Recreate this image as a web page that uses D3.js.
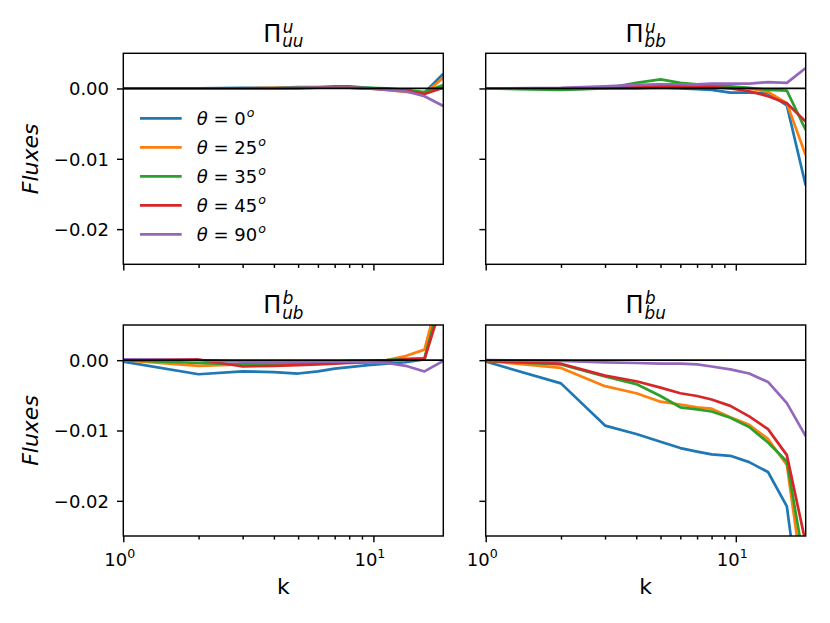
<!DOCTYPE html>
<html>
<head>
<meta charset="utf-8">
<script src="https://cdn.jsdelivr.net/npm/d3@7"></script>
<style>
  html, body { margin: 0; padding: 0; background: #fff; }
  svg { display: block; font-family: 'DejaVu Sans', sans-serif; }
</style>
</head>
<body>
<svg id="chart" width="830" height="623"></svg>
<script>
// shell wavenumbers (linear up to 8, then 2^(1/4) spacing)
var kValues = [1, 2, 3, 4, 5, 6, 7, 8, 9.51, 11.31, 13.45, 16, 19.03]
var thetaValues = [0, 25, 35, 45, 90]
var seriesColors = ['#1f77b4', '#ff7f0e', '#2ca02c', '#d62728', '#9467bd']
var yTickValues = [0, -0.01, -0.02]
var xMajorTicks = [1, 10]
var xMinorTicks = [2, 3, 4, 5, 6, 7, 8, 9]

// Pi^u_uu, one row per theta
var piUUu = [
  [0, 0, 0.0001, 0.0001, 0.0002, 0.0002, 0.0003, 0.0003, 0.0001, -0.0001, -0.0003, -0.0006, 0.0021],
  [0, 0, 0, 0.0001, 0.0001, 0.0001, 0.0001, 0.0001, 0, -0.0002, -0.0005, -0.0007, 0.0015],
  [0, 0, 0, 0, 0.0001, 0.0001, 0.0001, 0.0001, 0.0001, 0, -0.0002, -0.0005, 0.0005],
  [0, 0, 0, 0, 0, 0.0001, 0.0001, 0.0001, 0, -0.0001, -0.0003, -0.0008, 0.0001],
  [0, 0, 0, 0, 0.0001, 0.0001, 0.0001, 0.0001, 0, -0.0002, -0.0004, -0.0011, -0.0025]
]
// Pi^u_bb
var piBBu = [
  [0, -0.0001, 0, 0, 0.0001, 0, -0.0001, -0.0002, -0.0006, -0.0006, -0.0007, -0.0024, -0.0138],
  [0, 0, 0.0001, 0.0003, 0.0006, 0.0005, 0.0004, 0.0003, 0.0002, 0, -0.0005, -0.0021, -0.0095],
  [0, -0.0002, 0, 0.0008, 0.0013, 0.0008, 0.0006, 0.0004, 0.0003, 0.0001, -0.0002, -0.0003, -0.0059],
  [0, 0, 0.0001, 0.0002, 0.0003, 0.0003, 0.0002, 0.0002, 0, -0.0004, -0.0011, -0.0021, -0.0047],
  [0, 0.0001, 0.0003, 0.0005, 0.0006, 0.0006, 0.0006, 0.0007, 0.0007, 0.0007, 0.0009, 0.0008, 0.0029]
]
// Pi^b_ub
var piUBb = [
  [-0.0002, -0.002, -0.0016, -0.0017, -0.0019, -0.0016, -0.0012, -0.001, -0.0007, -0.0005, -0.0003, 0.0001, 0.0107],
  [0, -0.0008, -0.0006, -0.0005, -0.0004, -0.0003, -0.0002, -0.0002, -0.0001, 0, 0.0006, 0.0015, 0.0117],
  [0, -0.0004, -0.0006, -0.0005, -0.0004, -0.0003, -0.0002, -0.0001, -0.0001, 0, 0.0002, 0.0003, 0.01],
  [0, 0.0001, -0.0009, -0.0008, -0.0007, -0.0006, -0.0005, -0.0004, -0.0003, -0.0001, 0.0001, 0.0001, 0.0088],
  [0.0001, 0, -0.0002, -0.0003, -0.0002, -0.0002, -0.0002, -0.0002, -0.0003, -0.0004, -0.0008, -0.0016, -0.0001]
]
// Pi^b_bu
var piBUb = [
  [-0.0002, -0.0033, -0.0093, -0.0105, -0.0116, -0.0125, -0.013, -0.0134, -0.0136, -0.0145, -0.0159, -0.0208, -0.041],
  [-0.0001, -0.0011, -0.0037, -0.0047, -0.0059, -0.0063, -0.0067, -0.0069, -0.0081, -0.0092, -0.0112, -0.0149, -0.034],
  [-0.0001, -0.0006, -0.0023, -0.0034, -0.0051, -0.0067, -0.007, -0.0073, -0.0082, -0.0095, -0.0117, -0.0144, -0.03],
  [-0.0001, -0.0005, -0.0022, -0.003, -0.0039, -0.0047, -0.0051, -0.0056, -0.0065, -0.008, -0.0098, -0.0135, -0.026],
  [0, -0.0001, -0.0003, -0.0004, -0.0005, -0.0005, -0.0006, -0.0009, -0.0013, -0.0019, -0.0031, -0.0061, -0.0108]
]

var panels = [
  { sub: 'uu', sup: 'u', data: piUUu, col: 0, row: 0 },
  { sub: 'bb', sup: 'u', data: piBBu, col: 1, row: 0 },
  { sub: 'ub', sup: 'b', data: piUBb, col: 0, row: 1 },
  { sub: 'bu', sup: 'b', data: piBUb, col: 1, row: 1 }
]

var colX = [123.3, 485.7]
var rowY = [53.3, 325]
var panelW = 320
var panelH = 211
var svg = d3.select('#chart')

panels.forEach(function (p, pI) {
  var x0 = colX[p.col]
  var y0 = rowY[p.row]
  var x = d3.scaleLog().domain([1, 19.03]).range([0, panelW])
  var y = d3.scaleLinear().domain([-0.025, 0.005]).range([panelH, 0])
  var g = svg.append('g').attr('transform', 'translate(' + x0 + ',' + y0 + ')')

  g.append('clipPath').attr('id', 'clip-' + pI)
    .append('rect').attr('width', panelW).attr('height', panelH)

  var plotG = g.append('g').attr('clip-path', 'url(#clip-' + pI + ')')
  var line = d3.line()
    .x(function (d, i) { return x(kValues[i]) })
    .y(function (d) { return y(d) })
  p.data.forEach(function (series, sI) {
    plotG.append('path')
      .datum(series)
      .attr('d', line)
      .attr('fill', 'none')
      .attr('stroke', seriesColors[sI])
      .attr('stroke-width', 2.7)
      .attr('stroke-linejoin', 'round')
  })
  plotG.append('line')
    .attr('x1', 0).attr('x2', panelW)
    .attr('y1', y(0)).attr('y2', y(0))
    .attr('stroke', '#000').attr('stroke-width', 1.8)

  // x axis: major + minor ticks
  var xAxisG = g.append('g').attr('transform', 'translate(0,' + panelH + ')')
  xAxisG.append('g')
    .call(d3.axisBottom(x).tickValues(xMinorTicks).tickSize(3.6).tickFormat(''))
  var xMajor = xAxisG.append('g')
    .call(d3.axisBottom(x).tickValues(xMajorTicks).tickSize(6.3).tickPadding(4))
  xAxisG.selectAll('.domain').remove()
  xAxisG.selectAll('line').attr('stroke', '#000').attr('stroke-width', 1.44)
  xMajor.selectAll('text').each(function (d) {
    var t = d3.select(this).text('')
      .attr('y', 29.5).attr('dy', null)
      .attr('font-size', 18).attr('fill', '#000').attr('font-family', 'DejaVu Sans')
      .attr('dx', -4)
    if (p.row === 1) {
      t.append('tspan').text('10')
      t.append('tspan').text(String(Math.round(Math.log10(d))))
        .attr('font-size', 12.6).attr('dy', -7.5)
    }
  })

  // y axis
  var yAxisG = g.append('g')
    .call(d3.axisLeft(y).tickValues(yTickValues).tickSize(6.3).tickPadding(8)
      .tickFormat(function (d) { return p.col === 0 ? d3.format('.2f')(d).replace('-', '\u2212') : '' }))
  yAxisG.select('.domain').remove()
  yAxisG.selectAll('line').attr('stroke', '#000').attr('stroke-width', 1.44)
  yAxisG.selectAll('text').attr('font-size', 18).attr('fill', '#000')
    .attr('font-family', 'DejaVu Sans').attr('dy', '0.36em')

  // frame
  g.append('rect')
    .attr('width', panelW).attr('height', panelH)
    .attr('fill', 'none').attr('stroke', '#000').attr('stroke-width', 1.44)

  // title: Pi with sub/superscript
  var titleG = g.append('g')
  var piT = titleG.append('text').text('\u03a0').attr('font-size', 24).attr('y', -11.6)
  var subT = titleG.append('text').text(p.sub).attr('font-size', 16.8)
    .attr('font-style', 'italic').attr('y', -6)
  var supT = titleG.append('text').text(p.sup).attr('font-size', 16.8)
    .attr('font-style', 'italic').attr('y', -20.6)
  var w1 = piT.node().getComputedTextLength()
  var w2 = Math.max(subT.node().getComputedTextLength(), supT.node().getComputedTextLength())
  var startX = panelW / 2 - (w1 + w2 + 1) / 2
  piT.attr('x', startX)
  subT.attr('x', startX + w1 + 1)
  supT.attr('x', startX + w1 + 1.5)

  if (p.col === 0) {
    g.append('text')
      .attr('transform', 'translate(' + (38 - x0) + ',' + (panelH / 2) + ') rotate(-90)')
      .attr('text-anchor', 'middle')
      .attr('font-size', 22)
      .attr('font-style', 'italic')
      .text('Fluxes')
  }
  if (p.row === 1) {
    g.append('text')
      .attr('x', panelW / 2).attr('y', 594 - y0)
      .attr('text-anchor', 'middle')
      .attr('font-size', 22)
      .text('k')
  }

  // legend in first panel
  if (pI === 0) {
    var legendG = svg.append('g')
    thetaValues.forEach(function (th, tI) {
      var ry = 118.3 + tI * 29
      legendG.append('line')
        .attr('x1', 140).attr('x2', 181.7).attr('y1', ry).attr('y2', ry)
        .attr('stroke', seriesColors[tI]).attr('stroke-width', 2.7)
      var t = legendG.append('text').attr('x', 196.7).attr('y', ry + 6.5).attr('font-size', 18)
      t.append('tspan').text('\u03b8').attr('font-style', 'italic')
      t.append('tspan').text(' = ' + th)
      t.append('tspan').text('o').attr('font-style', 'italic')
        .attr('font-size', 12.6).attr('dy', -7.5).attr('dx', 1)
    })
  }
})
</script>
</body>
</html>
